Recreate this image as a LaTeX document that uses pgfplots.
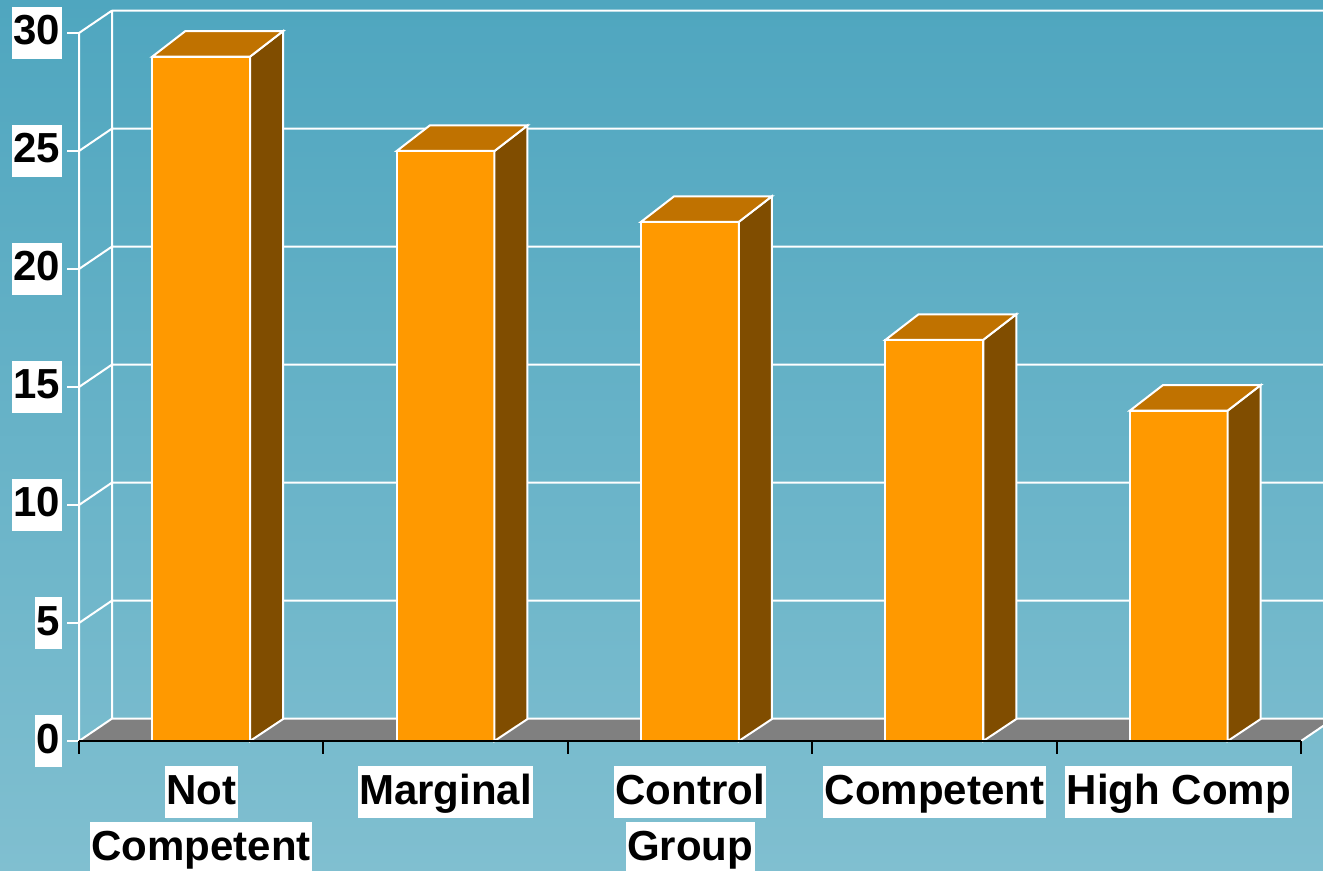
\documentclass[border=0pt]{standalone}
\usepackage{pgfplots}
\pgfplotsset{compat=1.18}
\usepackage{fontspec}
\setmainfont{Liberation Sans}
\definecolor{barfront}{RGB}{255,153,0}
\definecolor{bartop}{RGB}{192,114,0}
\definecolor{barside}{RGB}{128,77,0}
\definecolor{floorgray}{RGB}{128,128,128}
\definecolor{bgtop}{RGB}{79,166,191}
\definecolor{bgbot}{RGB}{128,191,208}
\setlength{\fboxsep}{1.5pt}
\newcommand{\hl}[1]{\colorbox{white}{\rule[-12.5pt]{0pt}{49pt}#1}}
\begin{document}
\begin{tikzpicture}
\begin{axis}[
  scale only axis, width=1323pt, height=871pt,
  xmin=-0.3233, xmax=5.090, ymin=-5.508, ymax=31.398,
  axis line style={draw=none},
  major tick length=0pt, minor tick length=0pt,
  tick style={draw=none},
  axis background/.style={shade, top color=bgtop, bottom color=bgbot},
  xtick={0.5,1.5,2.5,3.5,4.5},
  xticklabels={{\hl{Not}\\\hl{Competent}}, \hl{Marginal}, {\hl{Control}\\\hl{Group}}, \hl{Competent}, \hl{High Comp}},
  ytick={0,5,10,15,20,25,30},
  yticklabels={\hl{0},\hl{5},\hl{10},\hl{15},\hl{20},\hl{25},\hl{30}},
  ticklabel style={font=\fontsize{42}{56}\selectfont\bfseries, inner sep=0pt, text=black},
  xticklabel style={anchor=north, align=center, yshift=105pt},
  yticklabel style={anchor=east, xshift=62pt},
]
% floor
\addplot[fill=floorgray, draw=none] coordinates {(0,0) (5,0) (5.135,0.95) (0.135,0.95)} -- cycle;
% back-wall grid, left wall, diagonals, front y axis
\addplot[white, line width=2pt, unbounded coords=jump, mark=none] table[row sep=\\] {
x y\\
0.135 0.95\\ 5.4 0.95\\ nan nan\\
0.135 5.95\\ 5.4 5.95\\ nan nan\\
0.135 10.95\\ 5.4 10.95\\ nan nan\\
0.135 15.95\\ 5.4 15.95\\ nan nan\\
0.135 20.95\\ 5.4 20.95\\ nan nan\\
0.135 25.95\\ 5.4 25.95\\ nan nan\\
0.135 30.95\\ 5.4 30.95\\ nan nan\\
0.135 0.95\\ 0.135 30.95\\ nan nan\\
0 0\\ 0.135 0.95\\ nan nan\\
0 5\\ 0.135 5.95\\ nan nan\\
0 10\\ 0.135 10.95\\ nan nan\\
0 15\\ 0.135 15.95\\ nan nan\\
0 20\\ 0.135 20.95\\ nan nan\\
0 25\\ 0.135 25.95\\ nan nan\\
0 30\\ 0.135 30.95\\ nan nan\\
0 0\\ 0 30\\ nan nan\\
5 0\\ 5.135 0.95\\
};
% y ticks (white, pointing left)
\addplot[xcomb, white, line width=2pt, mark=none] coordinates {(-0.049,0) (-0.049,5) (-0.049,10) (-0.049,15) (-0.049,20) (-0.049,25) (-0.049,30)};
% bars: front faces
\addplot[ybar, bar width=0.401, fill=barfront, draw=white, line width=2pt] coordinates {(0.5,29) (1.5,25) (2.5,22) (3.5,17) (4.5,14)};
% side faces
\addplot[fill=barside, draw=white, line width=2pt] coordinates {(0.7,0) (0.835,0.93) (0.835,30.08) (0.7,29)} -- cycle;
\addplot[fill=barside, draw=white, line width=2pt] coordinates {(1.7,0) (1.835,0.93) (1.835,26.08) (1.7,25)} -- cycle;
\addplot[fill=barside, draw=white, line width=2pt] coordinates {(2.7,0) (2.835,0.93) (2.835,23.08) (2.7,22)} -- cycle;
\addplot[fill=barside, draw=white, line width=2pt] coordinates {(3.7,0) (3.835,0.93) (3.835,18.08) (3.7,17)} -- cycle;
\addplot[fill=barside, draw=white, line width=2pt] coordinates {(4.7,0) (4.835,0.93) (4.835,15.08) (4.7,14)} -- cycle;
% top faces
\addplot[fill=bartop, draw=white, line width=2pt] coordinates {(0.3,29) (0.7,29) (0.835,30.08) (0.435,30.08)} -- cycle;
\addplot[fill=bartop, draw=white, line width=2pt] coordinates {(1.3,25) (1.7,25) (1.835,26.08) (1.435,26.08)} -- cycle;
\addplot[fill=bartop, draw=white, line width=2pt] coordinates {(2.3,22) (2.7,22) (2.835,23.08) (2.435,23.08)} -- cycle;
\addplot[fill=bartop, draw=white, line width=2pt] coordinates {(3.3,17) (3.7,17) (3.835,18.08) (3.435,18.08)} -- cycle;
\addplot[fill=bartop, draw=white, line width=2pt] coordinates {(4.3,14) (4.7,14) (4.835,15.08) (4.435,15.08)} -- cycle;
% x axis line and ticks
\addplot[black, line width=2pt, mark=none] coordinates {(0,0) (5,0)};
\addplot[ycomb, black, line width=2pt, mark=none] coordinates {(0,-0.55) (1,-0.55) (2,-0.55) (3,-0.55) (4,-0.55) (5,-0.55)};
\end{axis}
\end{tikzpicture}
\end{document}
